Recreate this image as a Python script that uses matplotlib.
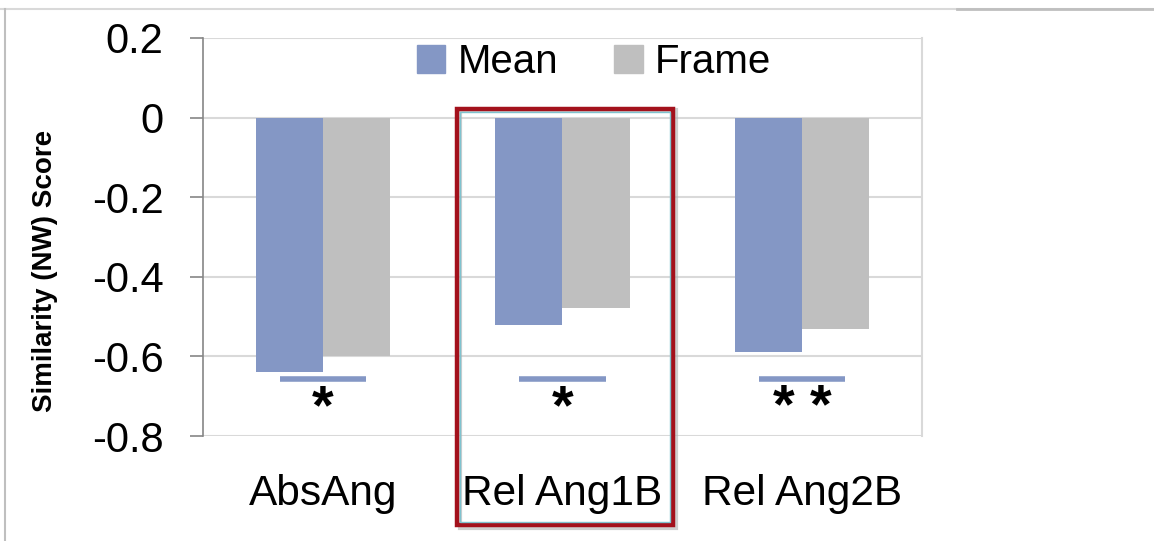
import matplotlib
matplotlib.use("Agg")
import matplotlib.pyplot as plt
from matplotlib.patches import Rectangle
from matplotlib.lines import Line2D
import numpy as np

categories = ["AbsAng", "Rel Ang1B", "Rel Ang2B"]
mean_vals = [-0.639, -0.522, -0.589]
frame_vals = [-0.600, -0.479, -0.532]
sig_level = [-0.657, -0.657, -0.657]
sig_marks = ["*", "*", "* *"]
series_names = ["Mean", "Frame"]
yticks = [0.2, 0, -0.2, -0.4, -0.6, -0.8]
ytick_labels = ["0.2", "0", "-0.2", "-0.4", "-0.6", "-0.8"]

BLUE = "#8497C5"
GRAY = "#BFBFBF"
GRID = "#D9D9D9"

plt.rcParams["font.family"] = ["Liberation Sans", "DejaVu Sans"]

fig = plt.figure(figsize=(11.54, 5.41), dpi=100)
W, H = 1154, 541
ax = fig.add_axes([203 / W, 1 - 436 / H, (922 - 203) / W, (436 - 38) / H])

x = np.arange(len(categories))
bw = 0.28
ax.bar(x - bw / 2, mean_vals, width=bw, color=BLUE, zorder=3)
ax.bar(x + bw / 2, frame_vals, width=bw, color=GRAY, zorder=3)

ax.set_xlim(-0.5, len(categories) - 0.5)
ax.set_ylim(-0.8, 0.2)
ax.set_yticks(yticks)
ax.set_yticklabels(ytick_labels, fontsize=30)
ax.set_xticks(x)
ax.set_xticklabels(categories, fontsize=30.5)
ax.tick_params(axis="x", length=0, pad=27)
ax.tick_params(axis="y", length=9.4, width=1.2, color="#868686", pad=19, direction="out")

for yv in yticks:
    ax.axhline(yv, color=GRID, lw=1.5, zorder=1)

for s in ["top", "bottom"]:
    ax.spines[s].set_visible(False)
ax.spines["left"].set_color("#868686")
ax.spines["left"].set_linewidth(1.2)
ax.spines["right"].set_color(GRID)
ax.spines["right"].set_linewidth(1.5)

# significance bars and asterisks
for xi, lvl, mk in zip(x, sig_level, sig_marks):
    ax.hlines(lvl, xi - 0.18, xi + 0.18, color=BLUE, lw=4, zorder=3)
    ax.text(xi, lvl - 0.075, mk, ha="center", va="center", fontsize=40,
            fontweight="bold", color="black")

ax.set_ylabel("Similarity (NW) Score", fontsize=20, fontweight="bold")
ax.yaxis.set_label_coords(-0.202, 0.415)

handles = [Rectangle((0, 0), 1, 1, color=BLUE), Rectangle((0, 0), 1, 1, color=GRAY)]
fig.legend(handles, series_names, loc="center", bbox_to_anchor=(594 / W, 1 - 62 / H),
           ncol=2, frameon=False, fontsize=29, handlelength=0.7, handleheight=0.7,
           handletextpad=0.3, columnspacing=1.4)

# highlight box around the second group
fig.patches.append(Rectangle((460 / W, 1 - 528 / H), 216 / W, 418 / H,
                             transform=fig.transFigure, fill=False,
                             edgecolor="#B0B0B0", lw=3, alpha=0.6, zorder=5))
fig.patches.append(Rectangle((457 / W, 1 - 525 / H), 216 / W, 416 / H,
                             transform=fig.transFigure, fill=False,
                             edgecolor="#A3111C", lw=3.2, zorder=6))
fig.patches.append(Rectangle((460 / W, 1 - 522 / H), 210 / W, 410 / H,
                             transform=fig.transFigure, fill=False,
                             edgecolor="#7FC3CF", lw=1.0, zorder=6))

# outer chart-area borders
fig.add_artist(Line2D([0, 1], [1 - 9 / H, 1 - 9 / H], transform=fig.transFigure,
                      color="#D9D9D9", lw=1.5))
fig.add_artist(Line2D([957 / W, 1], [1 - 9 / H, 1 - 9 / H], transform=fig.transFigure,
                      color="#BFBFBF", lw=2))
fig.add_artist(Line2D([5 / W, 5 / W], [0, 1 - 9 / H], transform=fig.transFigure,
                      color="#BFBFBF", lw=1.5))

fig.savefig("out.png", dpi=100)
